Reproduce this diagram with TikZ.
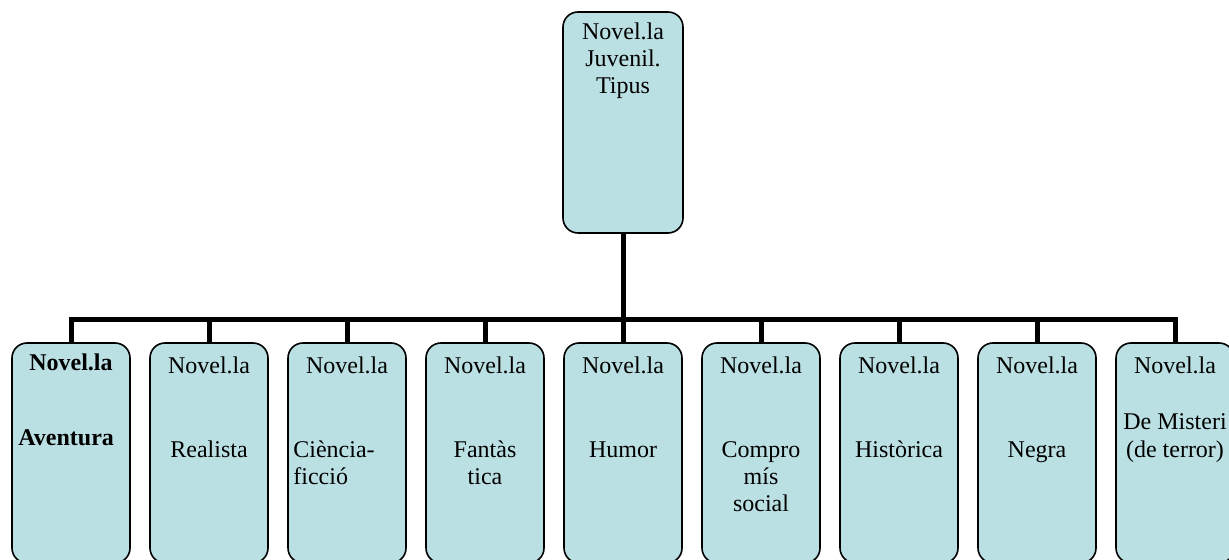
\documentclass[tikz,border=0pt]{standalone}
\usepackage{fontspec}
\setmainfont{Liberation Serif}
\definecolor{kfill}{RGB}{187,224,227}
\tikzset{
  tipusbox/.style={draw=black,line width=0.8pt,fill=kfill,rounded corners=7.5pt,minimum width=59pt,minimum height=110pt,inner sep=0pt,outer sep=0pt},
  branca/.style={draw=black,line width=2.5pt},
  rotul/.style={font=\fontsize{12}{13.5}\selectfont,inner sep=0pt,align=center}
}

\begin{document}
\begin{tikzpicture}[x=0.5pt,y=-0.5pt]
\useasboundingbox (0,0) rectangle (1229,560);
\clip (0,0) rectangle (1229,560);
\node[tipusbox,minimum width=60pt,minimum height=110.5pt] (juvenil) at (623,122.5) {};
\node[tipusbox] (aventura) at (71,453) {};
\node[tipusbox] (realista) at (209,453) {};
\node[tipusbox] (ciencia) at (347,453) {};
\node[tipusbox] (fantastica) at (485,453) {};
\node[tipusbox] (humor) at (623,453) {};
\node[tipusbox] (social) at (761,453) {};
\node[tipusbox] (historica) at (899,453) {};
\node[tipusbox] (negra) at (1037,453) {};
\node[tipusbox] (misteri) at (1175,453) {};
\coordinate (barra) at (623,320);
\draw[branca] (juvenil.south) -- (barra) -| (aventura.north);
\draw[branca] (juvenil.south) -- (barra) -| (realista.north);
\draw[branca] (juvenil.south) -- (barra) -| (ciencia.north);
\draw[branca] (juvenil.south) -- (barra) -| (fantastica.north);
\draw[branca] (juvenil.south) -- (humor.north);
\draw[branca] (juvenil.south) -- (barra) -| (social.north);
\draw[branca] (juvenil.south) -- (barra) -| (historica.north);
\draw[branca] (juvenil.south) -- (barra) -| (negra.north);
\draw[branca] (juvenil.south) -- (barra) -| (misteri.north);
\node[rotul,anchor=base] (tjuvenil) at (623,94) {Novel.la\\Juvenil.\\Tipus};
\node[rotul,anchor=base] (naventura) at (71,371) {\bfseries Novel.la};
\node[rotul,anchor=base west] (taventura) at (18,445) {\bfseries Aventura};
\node[rotul,anchor=base] (nrealista) at (209,373) {Novel.la};
\node[rotul,anchor=base] (trealista) at (209,457) {Realista};
\node[rotul,anchor=base] (nciencia) at (347,373) {Novel.la};
\node[rotul,anchor=base west,align=left] (tciencia) at (293,484) {Ciència-\\ficció};
\node[rotul,anchor=base] (nfantastica) at (485,373) {Novel.la};
\node[rotul,anchor=base] (tfantastica) at (485,484) {Fantàs\\tica};
\node[rotul,anchor=base] (nhumor) at (623,373) {Novel.la};
\node[rotul,anchor=base] (thumor) at (623,457) {Humor};
\node[rotul,anchor=base] (nsocial) at (761,373) {Novel.la};
\node[rotul,anchor=base] (tsocial) at (761,511) {Compro\\mís\\social};
\node[rotul,anchor=base] (nhistorica) at (899,373) {Novel.la};
\node[rotul,anchor=base] (thistorica) at (899,457) {Històrica};
\node[rotul,anchor=base] (nnegra) at (1037,373) {Novel.la};
\node[rotul,anchor=base] (tnegra) at (1037,457) {Negra};
\node[rotul,anchor=base] (nmisteri) at (1175,373) {Novel.la};
\node[rotul,anchor=base] (tmisteri) at (1175,457) {De Misteri\\(de terror)};
\end{tikzpicture}
\end{document}
